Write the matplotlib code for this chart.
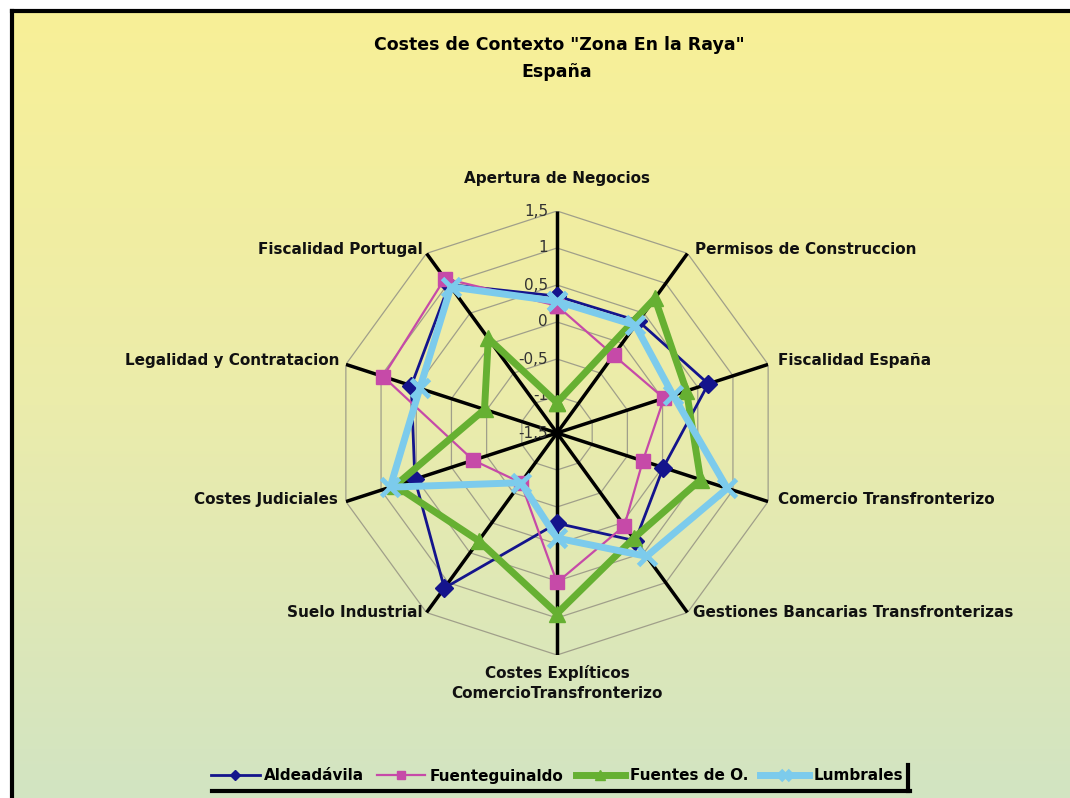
import numpy as np
import matplotlib
matplotlib.use("Agg")
import matplotlib.pyplot as plt
from matplotlib.lines import Line2D
from matplotlib.colors import LinearSegmentedColormap

# categories, clockwise from the top
categories = ["Apertura de Negocios", "Permisos de Construccion", "Fiscalidad España",
              "Comercio Transfronterizo", "Gestiones Bancarias Transfronterizas",
              "Costes Explíticos\nComercioTransfronterizo", "Suelo Industrial",
              "Costes Judiciales", "Legalidad y Contratacion", "Fiscalidad Portugal"]

aldeadavila = [0.35, 0.37, 0.65, 0.01, 0.30, -0.28, 1.09, 0.52, 0.57, 0.98]
fuenteguinaldo = [0.22, -0.20, 0.02, -0.28, 0.05, 0.52, -0.67, -0.31, 0.97, 1.08]
fuentes = [-1.09, 0.75, 0.34, 0.54, 0.26, 0.94, 0.30, 0.80, -0.47, 0.08]
lumbrales = [0.28, 0.30, 0.15, 0.92, 0.56, -0.08, -0.67, 0.87, 0.45, 0.94]

series_names = ["Aldeadávila", "Fuenteguinaldo", "Fuentes de O.", "Lumbrales"]
r_ticks = [-1.5, -1, -0.5, 0, 0.5, 1, 1.5]
r_tick_labels = ["-1,5", "-1", "-0,5", "0", "0,5", "1", "1,5"]

W, H = 1070, 798
fig = plt.figure(figsize=(W / 100, H / 100), dpi=100)
fig.patch.set_facecolor("white")

# gradient background inside the frame
bg = fig.add_axes([12 / W, 0, 1 - 12 / W, 1 - 12 / H], zorder=-10)
cmap = LinearSegmentedColormap.from_list("bg", ["#f8f097", "#ebecab", "#d2e4c2"])
grad = np.linspace(0, 1, 256).reshape(-1, 1)
bg.imshow(grad, aspect="auto", cmap=cmap, extent=[0, 1, 0, 1])
bg.set_axis_off()
# frame
fig.add_artist(Line2D([12 / W, 12 / W], [0, 1 - 11 / H], color="black", lw=3))
fig.add_artist(Line2D([12 / W, 1], [1 - 11 / H, 1 - 11 / H], color="black", lw=3))

# title
fig.text(559 / W, 1 - 45 / H, 'Costes de Contexto "Zona En la Raya"', ha="center", va="center",
         fontsize=12.5, fontweight="bold", family=["Liberation Sans Narrow", "DejaVu Sans"])
fig.text(557 / W, 1 - 72 / H, "España", ha="center", va="center",
         fontsize=12.5, fontweight="bold", family=["Liberation Sans Narrow", "DejaVu Sans"])

# radar axes
cx, cy, R = 557, 433, 222
ax = fig.add_axes([(cx - R) / W, (H - cy - R) / H, 2 * R / W, 2 * R / H], projection="polar")
ax.set_theta_zero_location("N")
ax.set_theta_direction(-1)
ax.set_ylim(-1.5, 1.5)
ax.set_xticks([])
ax.set_yticks([])
ax.grid(False)
ax.spines["polar"].set_visible(False)
ax.patch.set_alpha(0)

n = len(categories)
angles = np.arange(n) * 2 * np.pi / n
closed = np.append(angles, angles[0])

for r in r_ticks[1:]:
    ax.plot(closed, [r] * (n + 1), color="#a09f8a", lw=0.9, zorder=1)
for a in angles:
    ax.plot([a, a], [-1.5, 1.5], color="black", lw=2.5, zorder=2, solid_capstyle="butt")

for r, lab in zip(r_ticks, r_tick_labels):
    ax.annotate(lab, xy=(0, r), xytext=(-9, 0), textcoords="offset pixels",
                ha="right", va="center", fontsize=11, color="#333333", zorder=3)

styles = [
    dict(color="#14148c", lw=2, marker="D", ms=9),
    dict(color="#c64aa8", lw=1.6, marker="s", ms=10),
    dict(color="#66b032", lw=5, marker="^", ms=12),
    dict(color="#7ccbec", lw=5, marker="x", ms=13, mew=3.5),
]
handles = []
for vals, name, st in zip([aldeadavila, fuenteguinaldo, fuentes, lumbrales], series_names, styles):
    v = np.append(vals, vals[0])
    h, = ax.plot(closed, v, label=name, zorder=5, clip_on=False, **st)
    handles.append(h)

# category labels around the chart
offsets = [(0, 25, "center", "bottom"), (8, 4, "left", "center"), (10, 4, "left", "center"),
           (10, 2, "left", "center"), (6, 0, "left", "center"), (0, -10, "center", "top"),
           (-4, 0, "right", "center"), (-8, 2, "right", "center"), (-6, 4, "right", "center"),
           (-4, 4, "right", "center")]
for a, lab, (dx, dy, ha, va) in zip(angles, categories, offsets):
    ax.annotate(lab, xy=(a, 1.5), xytext=(dx, dy), textcoords="offset pixels",
                ha=ha, va=va, fontsize=11, fontweight="bold", color="#111111",
                linespacing=1.4, annotation_clip=False)

# legend with a shadow line under and right of it
leg = fig.legend(handles=handles, labels=series_names, loc="center", ncol=4,
                 bbox_to_anchor=(557 / W, 1 - 776 / H), frameon=False,
                 handlelength=3.2, columnspacing=0.8, handletextpad=0.3,
                 prop=dict(size=11, weight="bold"), markerscale=0.6)
fig.add_artist(Line2D([212 / W, 910 / W], [1 - 791 / H, 1 - 791 / H], color="black", lw=3))
fig.add_artist(Line2D([908 / W, 908 / W], [1 - 765 / H, 1 - 791 / H], color="black", lw=3))

fig.savefig("out.png", dpi=100, facecolor=fig.get_facecolor())
